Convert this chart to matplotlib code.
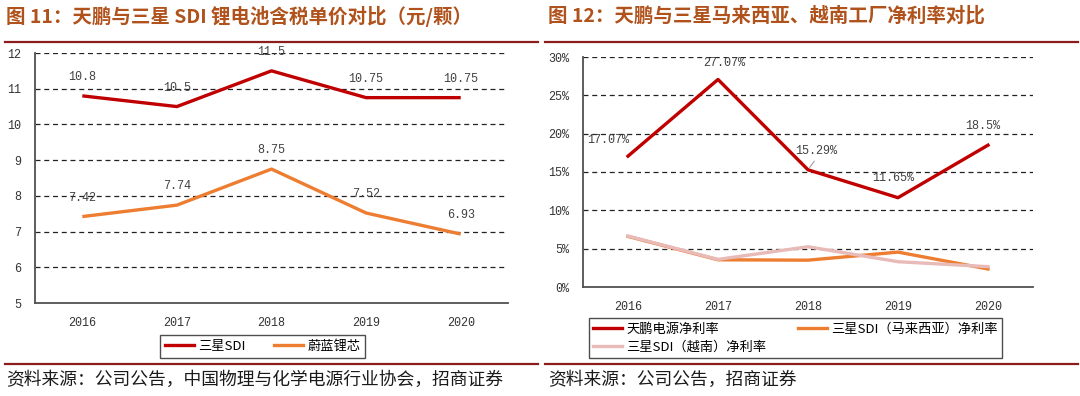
import matplotlib
matplotlib.use("Agg")
import matplotlib.pyplot as plt
from matplotlib.lines import Line2D

plt.rcParams['font.family'] = ['Noto Sans CJK SC', 'DejaVu Sans']

# ---------------- data ----------------
years = ['2016', '2017', '2018', '2019', '2020']

price_sdi = [10.8, 10.5, 11.5, 10.75, 10.75]
price_weilan = [7.42, 7.74, 8.75, 7.52, 6.93]
price_sdi_labels = ['10.8', '10.5', '11.5', '10.75', '10.75']
price_weilan_labels = ['7.42', '7.74', '8.75', '7.52', '6.93']
left_yticks = [5, 6, 7, 8, 9, 10, 11, 12]

margin_tianpeng = [17.07, 27.07, 15.29, 11.65, 18.5]
margin_malaysia = [6.6, 3.55, 3.5, 4.55, 2.35]
margin_vietnam = [6.65, 3.6, 5.25, 3.3, 2.65]
margin_tianpeng_labels = ['17.07%', '27.07%', '15.29%', '11.65%', '18.5%']
right_yticks = [0, 5, 10, 15, 20, 25, 30]

title_left = '图 11：天鹏与三星 SDI 锂电池含税单价对比（元/颗）'
title_right = '图 12：天鹏与三星马来西亚、越南工厂净利率对比'
source_left = '资料来源：公司公告，中国物理与化学电源行业协会，招商证券'
source_right = '资料来源：公司公告，招商证券'
legend_left = ['三星SDI', '蔚蓝锂芯']
legend_right = ['天鹏电源净利率', '三星SDI（马来西亚）净利率', '三星SDI（越南）净利率']

# ---------------- style ----------------
W, H = 1080, 396
RED = '#C00000'
ORANGE = '#ED7D31'
PINK = '#E8BAB8'
TITLE_C = '#B0521C'
RULE_C = '#8B1C1C'
NUM_FONT = ['Liberation Mono', 'DejaVu Sans Mono']
NUM_C = '#404040'

fig = plt.figure(figsize=(W / 100, H / 100), dpi=100)


def px_axes(l, t, r, b):
    return fig.add_axes([l / W, 1 - b / H, (r - l) / W, (b - t) / H])


def style_axes(ax, yticks, ylabels):
    ax.set_xlim(-0.5, 4.5)
    ax.set_ylim(yticks[0], yticks[-1])
    ax.set_yticks(yticks)
    ax.set_yticklabels(ylabels)
    ax.set_xticks(range(len(years)))
    ax.set_xticklabels(years)
    for s in ['top', 'right']:
        ax.spines[s].set_visible(False)
    for s in ['left', 'bottom']:
        ax.spines[s].set_color('#505050')
        ax.spines[s].set_linewidth(1.3)
    ax.tick_params(length=0, labelsize=8.5, colors='#333333')
    ax.tick_params(axis='y', pad=10)
    ax.tick_params(axis='x', pad=10)
    for lab in ax.get_xticklabels() + ax.get_yticklabels():
        lab.set_family(NUM_FONT)
    for y in yticks[1:]:
        ax.axhline(y, color='#222222', lw=0.9, ls=(0, (4, 3)), zorder=1)


def rules(x0, x1):
    fig.add_artist(Line2D([x0 / W, x1 / W], [1 - 42 / H, 1 - 42 / H],
                          color=RULE_C, lw=1.6))
    fig.add_artist(Line2D([x0 / W, x1 / W], [1 - 364 / H, 1 - 364 / H],
                          color=RULE_C, lw=1.6))


# ---------------- left chart ----------------
axL = px_axes(35, 53, 508, 303)
style_axes(axL, left_yticks, [str(v) for v in left_yticks])
x = list(range(len(years)))
axL.plot(x, price_sdi, color=RED, lw=2.4, zorder=3, solid_capstyle='butt')
axL.plot(x, price_weilan, color=ORANGE, lw=2.4, zorder=3, solid_capstyle='butt')
for xi, v, t in zip(x, price_sdi, price_sdi_labels):
    axL.annotate(t, (xi, v), xytext=(0, 19), textcoords='offset pixels',
                 ha='center', va='center', fontsize=8.5, color=NUM_C, family=NUM_FONT)
for xi, v, t in zip(x, price_weilan, price_weilan_labels):
    axL.annotate(t, (xi, v), xytext=(0, 19), textcoords='offset pixels',
                 ha='center', va='center', fontsize=8.5, color=NUM_C, family=NUM_FONT)

hL = [Line2D([], [], color=RED, lw=2.4), Line2D([], [], color=ORANGE, lw=2.4)]
legL = fig.legend(hL, legend_left, loc='center', bbox_to_anchor=(262.5 / W, 1 - 346.5 / H),
                  ncol=2, frameon=True, fancybox=False, fontsize=9.5, handlelength=2.2,
                  handletextpad=0.3, columnspacing=2.2, borderpad=0.35, borderaxespad=0)
legL.get_frame().set_edgecolor('#222222')
legL.get_frame().set_linewidth(1.0)

fig.text(6 / W, 1 - 16 / H, title_left, fontsize=14, fontweight='bold', color=TITLE_C,
         ha='left', va='center')
fig.text(6 / W, 1 - 380 / H, source_left, fontsize=12.8, color='#1a1a1a', ha='left', va='center')
rules(5, 538)

# ---------------- right chart ----------------
axR = px_axes(583, 57, 1033, 287)
style_axes(axR, right_yticks, [f'{v}%' for v in right_yticks])
axR.plot(x, margin_malaysia, color=ORANGE, lw=2.4, zorder=3)
axR.plot(x, margin_vietnam, color=PINK, lw=2.4, zorder=3)
axR.plot(x, margin_tianpeng, color=RED, lw=2.4, zorder=4)
offsets = [(-20, 16), (6, 16), (8, 19), (-5, 20), (-5, 19)]
for xi, v, t, off in zip(x, margin_tianpeng, margin_tianpeng_labels, offsets):
    axR.annotate(t, (xi, v), xytext=off, textcoords='offset pixels',
                 ha='center', va='center', fontsize=8.5, color=NUM_C, family=NUM_FONT)
# leader line for the 2018 label
axR.annotate('', (2, margin_tianpeng[2]), xytext=(8, 11), textcoords='offset pixels',
             arrowprops=dict(arrowstyle='-', color='#A0A0A0', lw=0.8))

hR = [Line2D([], [], color=RED, lw=2.4), Line2D([], [], color=PINK, lw=2.4),
      Line2D([], [], color=ORANGE, lw=2.4)]
labR = [legend_right[0], legend_right[2], legend_right[1]]
legR = fig.legend(hR, labR, loc='center', bbox_to_anchor=(795.5 / W, 1 - 338 / H),
                  ncol=2, frameon=True, fancybox=False, fontsize=9.5, handlelength=2.2,
                  handletextpad=0.3, columnspacing=2.4, borderpad=0.35, borderaxespad=0,
                  labelspacing=0.4)
legR.get_frame().set_edgecolor('#222222')
legR.get_frame().set_linewidth(1.0)

fig.text(548 / W, 1 - 16 / H, title_right, fontsize=14, fontweight='bold', color=TITLE_C,
         ha='left', va='center')
fig.text(548 / W, 1 - 380 / H, source_right, fontsize=12.8, color='#1a1a1a', ha='left', va='center')
rules(545, 1078)

fig.savefig('out.png', dpi=100)
